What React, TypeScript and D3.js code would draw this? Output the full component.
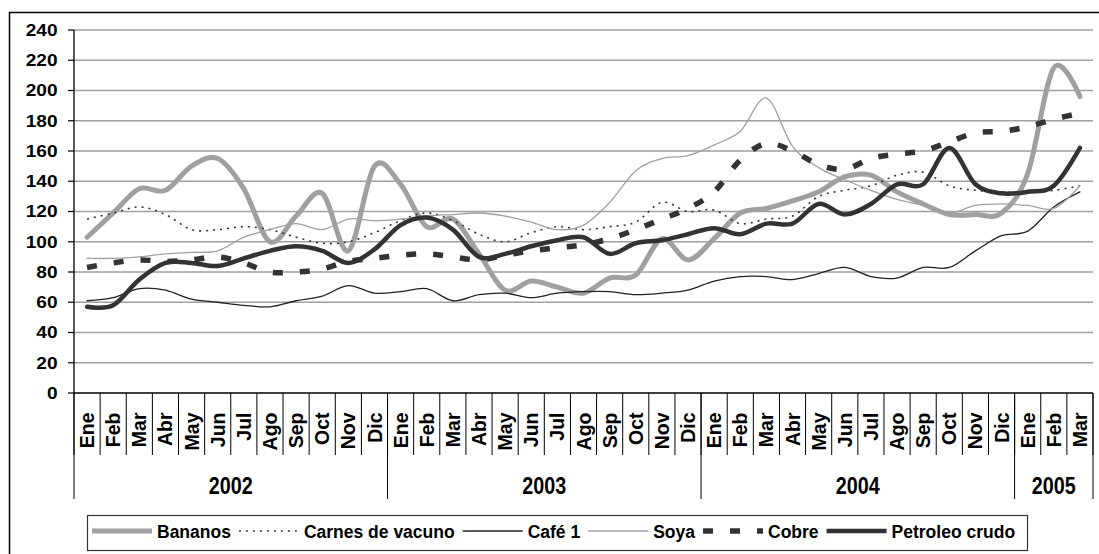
import React, { useEffect, useRef } from "react";
import * as d3 from "d3";

const years = ["2002", "2003", "2004", "2005"];
const monthsPerYear = [12, 12, 12, 3];
const monthNames = ["Ene", "Feb", "Mar", "Abr", "May", "Jun", "Jul", "Ago", "Sep", "Oct", "Nov", "Dic"];

const bananos = [103, 119, 135, 134, 150, 155, 135, 100, 117, 132, 94, 150,
  138, 110, 115, 92, 68, 74, 70, 66, 76, 78, 102, 88,
  102, 119, 122, 127, 133, 143, 144, 133, 125, 118, 118, 119,
  145, 215, 196];
const carnes = [115, 119, 123, 118, 108, 108, 110, 108, 103, 99, 100, 106,
  114, 119, 114, 105, 100, 106, 110, 108, 110, 113, 126, 120,
  121, 112, 115, 117, 130, 134, 137, 144, 146, 137, 134, 133,
  133, 134, 137];
const cafe = [61, 63, 69, 68, 62, 60, 58, 57, 61, 64, 71, 66,
  67, 69, 61, 65, 66, 63, 66, 67, 67, 65, 66, 68,
  74, 77, 77, 75, 79, 83, 77, 76, 83, 83, 94, 104,
  107, 123, 133];
const soya = [89, 89, 90, 92, 93, 94, 103, 108, 112, 108, 115, 114,
  115, 117, 118, 119, 117, 113, 108, 111, 126, 147, 155, 157,
  164, 173, 195, 163, 149, 141, 134, 128, 124, 119, 124, 125,
  124, 122, 137];
const cobre = [83, 86, 88, 87, 88, 90, 86, 80, 80, 82, 87, 89,
  91, 92, 90, 88, 91, 94, 96, 98, 102, 108, 115, 122,
  133, 154, 165, 160, 151, 148, 155, 158, 160, 166, 172, 173,
  176, 181, 185];
const petroleo = [57, 58, 75, 86, 86, 84, 89, 94, 97, 94, 86, 95,
  111, 116, 108, 90, 92, 97, 101, 103, 92, 99, 101, 105,
  109, 105, 112, 112, 125, 118, 125, 138, 138, 162, 138, 132,
  133, 137, 162];

const seriesNames = ["Bananos", "Carnes de vacuno", "Café 1", "Soya", "Cobre", "Petroleo crudo"];
const seriesValues = [bananos, carnes, cafe, soya, cobre, petroleo];
const seriesStyles = [
  { color: "#a0a0a0", width: 5, dash: null },
  { color: "#333333", width: 1.6, dash: "2,5" },
  { color: "#222222", width: 1.3, dash: null },
  { color: "#a0a0a0", width: 1.3, dash: null },
  { color: "#333333", width: 5.5, dash: "10,17" },
  { color: "#333333", width: 4.5, dash: null },
];

const FONT = "'Liberation Sans', Arial, sans-serif";

const App = () => {
  const svgRef = useRef<SVGSVGElement>(null);

  useEffect(() => {
    const svg = d3.select(svgRef.current);
    svg.selectAll("*").remove();

    const width = 1099;
    const height = 554;
    const margin = { top: 30, right: 6, bottom: 161, left: 74 };

    svg.attr("width", width).attr("height", height);

    const categories: string[] = [];
    years.forEach((yr, k) => {
      for (let m = 0; m < monthsPerYear[k]; m++) categories.push(`${monthNames[m]}-${yr}`);
    });

    const x = d3
      .scaleBand()
      .domain(categories)
      .range([margin.left, width - margin.right]);
    const y = d3
      .scaleLinear()
      .domain([0, 240])
      .range([height - margin.bottom, margin.top]);

    const x0 = margin.left;
    const x1 = width - margin.right;
    const yBase = y(0);

    // outer border
    svg
      .append("rect")
      .attr("x", 9.5)
      .attr("y", 12.5)
      .attr("width", 1200)
      .attr("height", 700)
      .attr("fill", "white")
      .attr("stroke", "#000")
      .attr("stroke-width", 1.5);

    // grid
    const ticks = d3.range(0, 241, 20);
    svg
      .append("g")
      .selectAll("line")
      .data(ticks.filter((t) => t > 0))
      .enter()
      .append("line")
      .attr("x1", x0)
      .attr("x2", x1)
      .attr("y1", (d) => y(d))
      .attr("y2", (d) => y(d))
      .attr("stroke", "#a0a0a0")
      .attr("stroke-width", 1.3);

    // y axis
    svg
      .append("line")
      .attr("x1", x0)
      .attr("x2", x0)
      .attr("y1", y(240))
      .attr("y2", yBase)
      .attr("stroke", "#000")
      .attr("stroke-width", 1.3);
    svg
      .append("g")
      .selectAll("line")
      .data(ticks)
      .enter()
      .append("line")
      .attr("x1", x0 - 6)
      .attr("x2", x0)
      .attr("y1", (d) => y(d))
      .attr("y2", (d) => y(d))
      .attr("stroke", "#000")
      .attr("stroke-width", 1.2);
    svg
      .append("g")
      .selectAll("text")
      .data(ticks)
      .enter()
      .append("text")
      .attr("x", (d) => 57.5 - String(d).length * 10.6)
      .attr("y", (d) => y(d))
      .attr("dy", "0.36em")
      .attr("textLength", (d) => String(d).length * 10.6)
      .attr("lengthAdjust", "spacingAndGlyphs")
      .attr("font-family", FONT)
      .attr("font-weight", "bold")
      .attr("font-size", "16.5px")
      .text((d) => d);

    // x axis line
    svg
      .append("line")
      .attr("x1", x0)
      .attr("x2", x1)
      .attr("y1", yBase)
      .attr("y2", yBase)
      .attr("stroke", "#000")
      .attr("stroke-width", 1.3);

    // month dividers
    const step = x.step();
    svg
      .append("g")
      .selectAll("line")
      .data(d3.range(categories.length + 1))
      .enter()
      .append("line")
      .attr("x1", (i) => x0 + i * step)
      .attr("x2", (i) => x0 + i * step)
      .attr("y1", yBase)
      .attr("y2", yBase + 62)
      .attr("stroke", "#000")
      .attr("stroke-width", 1);

    // month labels
    svg
      .append("g")
      .selectAll("text")
      .data(categories)
      .enter()
      .append("text")
      .attr("transform", (d) => `translate(${x(d)! + x.bandwidth() / 2},${yBase + 19.5}) rotate(-90)`)
      .attr("text-anchor", "end")
      .attr("dy", "0.36em")
      .attr("font-family", FONT)
      .attr("font-weight", "bold")
      .attr("font-size", "19.5px")
      .text((d) => d.split("-")[0]);

    // year dividers and labels
    const cum = [0];
    monthsPerYear.forEach((c) => cum.push(cum[cum.length - 1] + c));
    svg
      .append("g")
      .selectAll("line")
      .data(cum)
      .enter()
      .append("line")
      .attr("x1", (c) => x0 + c * step)
      .attr("x2", (c) => x0 + c * step)
      .attr("y1", yBase)
      .attr("y2", yBase + 106)
      .attr("stroke", "#000")
      .attr("stroke-width", 1);
    svg
      .append("g")
      .selectAll("text")
      .data(years)
      .enter()
      .append("text")
      .attr("x", (d, k) => x0 + ((cum[k] + cum[k + 1]) / 2) * step - 22)
      .attr("y", yBase + 100.5)
      .attr("textLength", 44)
      .attr("lengthAdjust", "spacingAndGlyphs")
      .attr("font-family", FONT)
      .attr("font-weight", "bold")
      .attr("font-size", "23px")
      .text((d) => d);

    // series
    const line = d3
      .line<number>()
      .x((d, i) => x(categories[i])! + x.bandwidth() / 2)
      .y((d) => y(d))
      .curve(d3.curveCardinal.tension(0));

    const gLines = svg.append("g");
    seriesValues.forEach((vals, k) => {
      const st = seriesStyles[k];
      gLines
        .append("path")
        .attr("d", line(vals))
        .attr("fill", "none")
        .attr("stroke", st.color)
        .attr("stroke-width", st.width)
        .attr("stroke-dasharray", st.dash)
        .attr("stroke-linejoin", "round")
        .attr("stroke-linecap", st.dash ? "butt" : "round");
    });

    // legend
    const legend = svg.append("g");
    legend
      .append("rect")
      .attr("x", 87.5)
      .attr("y", 515.5)
      .attr("width", 940)
      .attr("height", 35)
      .attr("fill", "white")
      .attr("stroke", "#333")
      .attr("stroke-width", 1.2);

    let cx = 92;
    const ly = 531;
    seriesNames.forEach((name, k) => {
      const st = seriesStyles[k];
      legend
        .append("line")
        .attr("x1", cx)
        .attr("x2", cx + 60)
        .attr("y1", ly)
        .attr("y2", ly)
        .attr("stroke", st.color)
        .attr("stroke-width", st.width)
        .attr("stroke-dasharray", st.dash);
      const t = legend
        .append("text")
        .attr("x", cx + 65)
        .attr("y", ly + 7)
        .attr("font-family", FONT)
        .attr("font-weight", "bold")
        .attr("font-size", "17.5px")
        .text(name);
      const w = (t.node() as SVGTextElement).getComputedTextLength();
      cx = cx + 65 + w + 8;
    });
  }, []);

  return (
    <div style={{ position: "absolute", left: 0, top: 0 }}>
      <svg ref={svgRef} style={{ display: "block" }}></svg>
    </div>
  );
};

export default App;
